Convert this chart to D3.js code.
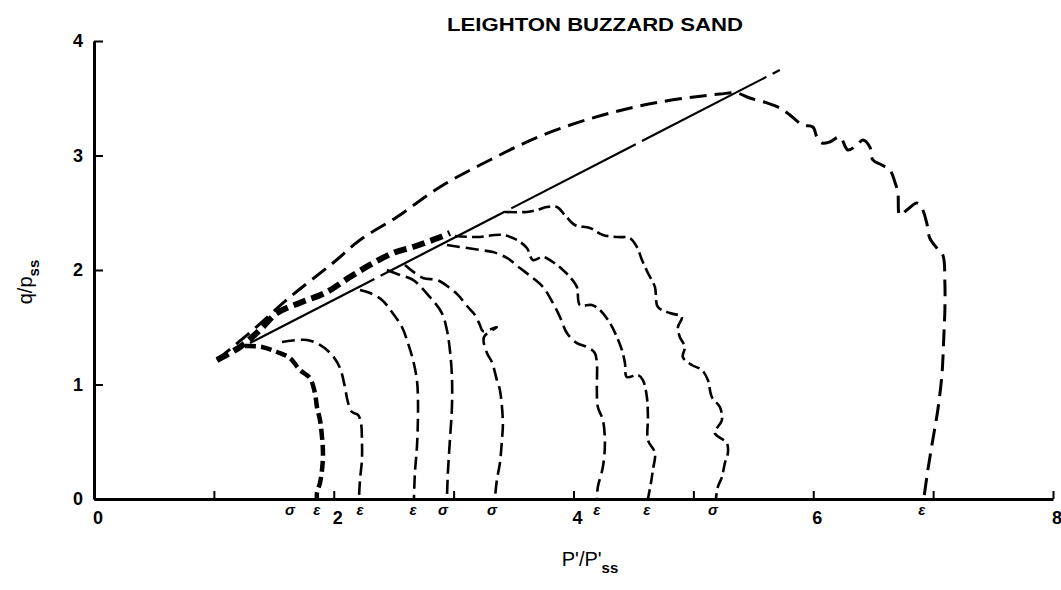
<!DOCTYPE html>
<html><head><meta charset="utf-8">
<script src="https://cdn.jsdelivr.net/npm/d3@7"></script>
<style>body{margin:0;background:#fff}svg{display:block}</style>
</head><body>
<svg id="chart" width="1061" height="590"></svg>
<script>
// ---------- data ----------
const chartTitle = "LEIGHTON BUZZARD SAND";
const xTickValues = [0, 1, 2, 3, 4, 5, 6, 7, 8];
const xTickLabels = ["0", "", "2", "", "4", "", "6", "", "8"];
const yTickValues = [0, 1, 2, 3, 4];
const yTickLabels = ["0", "1", "2", "3", "4"];

// critical state line (p'/p'ss, q/p'ss)
const criticalLine = [[1.301, 1.362], [5.721, 3.747]];

// outer envelope stress path
const envelopePath = [
  [1.026,1.214],[1.326,1.476],[1.635,1.764],[1.993,2.061],[2.219,2.262],[2.527,2.463],
  [2.886,2.725],[3.303,2.961],[3.745,3.179],[4.245,3.354],[4.721,3.467],[5.221,3.537],
  [5.363,3.546],[5.471,3.502],[5.613,3.459],[5.721,3.415],[5.805,3.354],[5.913,3.266],
  [5.997,3.249],[6.030,3.162],[6.072,3.109],[6.138,3.118],[6.222,3.162],[6.289,3.048],
  [6.364,3.092],[6.414,3.135],[6.472,3.074],[6.497,2.961],[6.572,2.917],[6.639,2.873],
  [6.681,2.769],[6.706,2.672],[6.722,2.480],[6.781,2.524],[6.864,2.585],[6.906,2.541],
  [6.947,2.410],[6.972,2.279],[7.031,2.192],[7.081,2.131],[7.098,1.886],[7.098,1.651],
  [7.089,1.415],[7.081,1.214],[7.072,1.066],[7.039,0.777],[6.997,0.515],[6.956,0.253],
  [6.922,0]
];

// heavy loading path
const heavyPath = [
  [1.026,1.214],[1.218,1.328],[1.384,1.476],[1.526,1.624],[1.735,1.721],[1.927,1.799],
  [2.135,1.939],[2.302,2.044],[2.494,2.148],[2.661,2.201],[2.869,2.279],[2.969,2.323]
];

// individual stress paths
const pathA = [
  [1.259,1.336],[1.401,1.328],[1.526,1.284],[1.635,1.231],[1.718,1.127],[1.801,1.057],
  [1.843,0.926],[1.860,0.803],[1.885,0.690],[1.902,0.541],[1.910,0.402],[1.902,0.253],
  [1.885,0.140],[1.860,0.052],[1.860,0]
];
const pathB = [
  [1.568,1.371],[1.776,1.389],[1.885,1.345],[1.985,1.258],[2.052,1.144],[2.093,0.978],
  [2.118,0.847],[2.152,0.760],[2.202,0.734],[2.227,0.664],[2.235,0.515],[2.235,0.341],
  [2.219,0.166],[2.210,0]
];
const pathC = [
  [2.219,1.825],[2.302,1.799],[2.402,1.738],[2.485,1.633],[2.569,1.502],[2.619,1.362],
  [2.661,1.214],[2.694,1.039],[2.702,0.891],[2.702,0.690],[2.694,0.454],[2.677,0.227],
  [2.669,0]
];
const pathD = [
  [2.444,2.000],[2.552,1.956],[2.661,1.913],[2.802,1.764],[2.902,1.624],[2.944,1.476],
  [2.969,1.301],[2.986,1.066],[2.986,0.803],[2.969,0.515],[2.952,0.227],[2.944,0]
];
const pathE = [
  [2.594,2.044],[2.744,1.930],[2.861,1.913],[2.969,1.843],[3.036,1.782],[3.119,1.677],
  [3.178,1.607],[3.219,1.520],[3.244,1.467],[3.361,1.502],[3.253,1.415],[3.278,1.275],
  [3.319,1.197],[3.361,1.039],[3.386,0.952],[3.411,0.664],[3.403,0.515],[3.386,0.314],
  [3.361,0.166],[3.344,0]
];
const pathF = [
  [2.944,2.218],[3.219,2.175],[3.328,2.157],[3.445,2.105],[3.553,2.017],[3.661,1.930],
  [3.745,1.852],[3.828,1.712],[3.887,1.590],[3.945,1.450],[4.028,1.362],[4.112,1.328],
  [4.178,1.275],[4.195,1.188],[4.195,0.952],[4.203,0.803],[4.245,0.690],[4.262,0.489],
  [4.245,0.279],[4.203,0.105],[4.195,0]
];
const pathG = [
  [3.011,2.297],[3.194,2.288],[3.411,2.306],[3.528,2.262],[3.611,2.192],[3.661,2.087],
  [3.745,2.114],[3.828,2.070],[3.912,2.000],[3.970,1.939],[4.028,1.852],[4.053,1.694],
  [4.153,1.694],[4.220,1.651],[4.304,1.537],[4.362,1.415],[4.404,1.301],[4.429,1.188],
  [4.445,1.066],[4.537,1.083],[4.579,1.039],[4.612,0.891],[4.621,0.716],[4.621,0.515],
  [4.679,0.402],[4.662,0.253],[4.646,0.140],[4.621,0]
];
const pathH = [
  [3.428,2.507],[3.611,2.507],[3.695,2.524],[3.778,2.550],[3.862,2.550],[3.928,2.480],
  [4.012,2.393],[4.137,2.367],[4.245,2.306],[4.370,2.288],[4.470,2.279],[4.529,2.201],
  [4.571,2.087],[4.621,1.974],[4.679,1.852],[4.704,1.677],[4.804,1.624],[4.904,1.590],
  [4.871,1.502],[4.887,1.415],[4.929,1.328],[4.912,1.240],[4.987,1.170],[5.071,1.127],
  [5.121,1.039],[5.154,0.891],[5.221,0.803],[5.238,0.690],[5.179,0.576],[5.279,0.489],
  [5.288,0.402],[5.263,0.314],[5.238,0.192],[5.204,0.105],[5.188,0]
];

// test-type markers along the p' axis (σ = stress controlled, ε = strain controlled)
const markerX = [1.635, 1.860, 2.219, 2.661, 2.911, 3.319, 4.195, 4.612, 5.163, 6.906];
const markerLabel = ["σ", "ε", "ε", "ε", "σ", "σ", "ε", "ε", "σ", "ε"];

// ---------- drawing ----------
const svg = d3.select("#chart");
const x = d3.scaleLinear().domain([0, 8]).range([94, 1053]);
const y = d3.scaleLinear().domain([0, 4]).range([499, 41]);
const font = "'Liberation Sans', Arial, sans-serif";

const line = d3.line().x(d => x(d[0])).y(d => y(d[1]));
const smooth = d3.line().x(d => x(d[0])).y(d => y(d[1])).curve(d3.curveCatmullRom.alpha(0.5));

// critical state line
svg.append("path").attr("d", line(criticalLine))
  .attr("fill", "none").attr("stroke", "#000").attr("stroke-width", 2.2)
  .attr("stroke-dasharray", "140,7");

// envelope
svg.append("path").attr("d", smooth(envelopePath))
  .attr("fill", "none").attr("stroke", "#000").attr("stroke-width", 3)
  .attr("stroke-dasharray", "17,8");

// heavy path
svg.append("path").attr("d", smooth(heavyPath))
  .attr("fill", "none").attr("stroke", "#000").attr("stroke-width", 6)
  .attr("stroke-dasharray", "13,6");

// stress paths
const paths = [
  {d: pathA, w: 4.5, dash: "11,5"},
  {d: pathB, w: 2.6, dash: "13,6"},
  {d: pathC, w: 2.6, dash: "13,6"},
  {d: pathD, w: 2.6, dash: "14,6"},
  {d: pathE, w: 2.6, dash: "13,6"},
  {d: pathF, w: 2.6, dash: "13,6"},
  {d: pathG, w: 2.6, dash: "12,5"},
  {d: pathH, w: 2.6, dash: "12,5"}
];
paths.forEach(p => {
  svg.append("path").attr("d", smooth(p.d))
    .attr("fill", "none").attr("stroke", "#000").attr("stroke-width", p.w)
    .attr("stroke-dasharray", p.dash).attr("stroke-linecap", "butt");
});

// axes
const xAxis = d3.axisBottom(x).tickValues(xTickValues)
  .tickFormat((d, i) => xTickLabels[i]).tickSizeInner(-8).tickSizeOuter(0).tickPadding(12);
const gx = svg.append("g").attr("transform", `translate(0,${y(0)})`).call(xAxis);
const yAxis = d3.axisLeft(y).tickValues(yTickValues)
  .tickFormat((d, i) => yTickLabels[i]).tickSizeInner(-9).tickSizeOuter(0).tickPadding(11);
const gy = svg.append("g").attr("transform", `translate(${x(0)},0)`).call(yAxis);

[gx, gy].forEach(g => {
  g.select(".domain").attr("stroke", "#000").attr("stroke-width", 3);
  g.selectAll(".tick line").attr("stroke", "#000").attr("stroke-width", 2);
  g.selectAll(".tick text").attr("fill", "#000").attr("font-family", font)
    .attr("font-size", 18).attr("font-weight", "bold");
});
gx.selectAll(".tick text").attr("dx", "0.2em");

// σ / ε markers
svg.append("g").selectAll("text").data(markerX).join("text")
  .attr("x", d => x(d)).attr("y", y(0) + 16)
  .attr("text-anchor", "middle").attr("font-family", font)
  .attr("font-size", 15).attr("font-weight", "bold").attr("font-style", "italic")
  .text((d, i) => markerLabel[i]);

// title
svg.append("text").attr("x", 595).attr("y", 31).attr("text-anchor", "middle")
  .attr("font-family", font).attr("font-size", 18).attr("font-weight", "bold")
  .attr("textLength", 296).attr("lengthAdjust", "spacingAndGlyphs")
  .text(chartTitle);

// x label
const xl = svg.append("text").attr("x", 590).attr("y", 566).attr("text-anchor", "middle")
  .attr("font-family", font).attr("font-size", 20);
xl.append("tspan").text("P'/P'");
xl.append("tspan").attr("dy", 7).attr("font-size", 15).attr("font-weight", "bold").text("ss");

// y label
const yl = svg.append("text").attr("transform", "translate(32,282) rotate(-90)")
  .attr("text-anchor", "middle").attr("font-family", font).attr("font-size", 20);
yl.append("tspan").text("q/p");
yl.append("tspan").attr("dy", 7).attr("font-size", 15).attr("font-weight", "bold").text("ss");
</script>
</body></html>
